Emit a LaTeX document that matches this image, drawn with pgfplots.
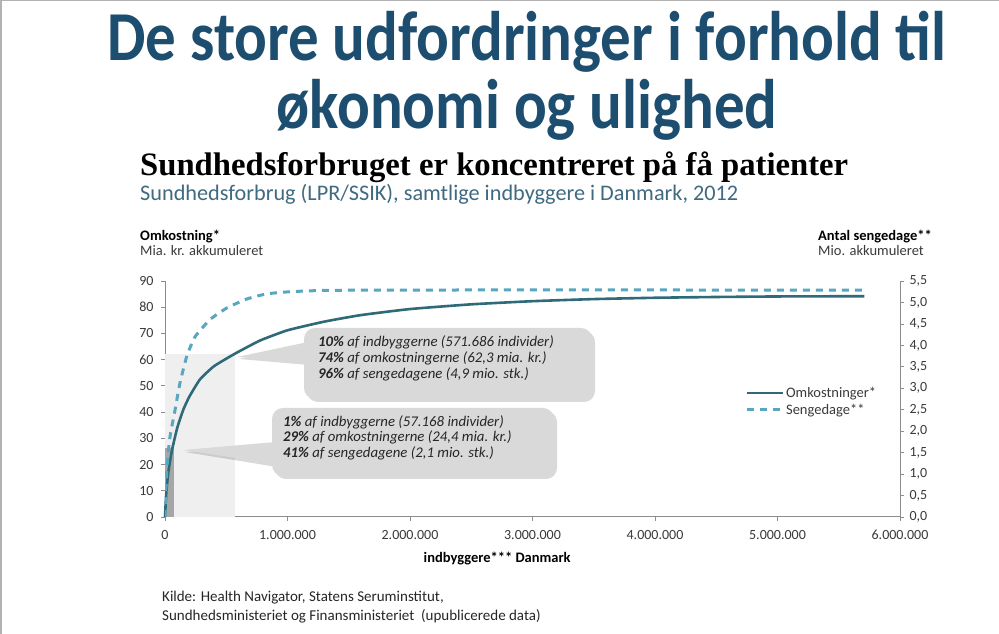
\documentclass[border=0pt]{standalone}
\usepackage{pgfplots}
\pgfplotsset{compat=1.18}
\usepackage{fontspec}
\setmainfont{Carlito}
\newfontfamily\headserif{Liberation Serif}
\definecolor{titleblue}{HTML}{1D4E6F}
\definecolor{costcol}{HTML}{2F6A79}
\definecolor{bedcol}{HTML}{58A6C0}
\definecolor{boxfill}{HTML}{D9D9D9}
\definecolor{axisgray}{HTML}{8C8C8C}
\definecolor{ticktext}{HTML}{3A3A3A}
\definecolor{subcol}{HTML}{3F6A80}
\definecolor{lightshade}{HTML}{EFEFEF}
\definecolor{darkshade}{HTML}{A6A6A6}
\definecolor{boxtext}{HTML}{262626}

\pgfplotstableread{
x y
0 0
10000 9
27000 17
57168 25.5
100000 34
150000 41
200000 46
286000 52.5
400000 57.5
571686 62.3
776000 67.3
1000000 71.2
1300000 74.5
1600000 77
2000000 79.3
2500000 81.1
3000000 82.3
3500000 83.1
4000000 83.6
4500000 83.9
5000000 84.1
5710000 84.2
}\costtable

\pgfplotstableread{
x y
0 0
13600 1.09
40800 1.87
81600 2.49
122000 3.12
177000 3.74
245000 4.20
367000 4.60
504000 4.87
667000 5.08
830000 5.20
1020000 5.25
1300000 5.28
2000000 5.29
5710000 5.29
}\bedtable

\begin{document}
\begin{tikzpicture}[x=1pt,y=1pt]
\path[fill=white, use as bounding box] (0,0) rectangle (999,634);
\draw[gray!60, line width=1.5pt] (0.75,0) -- (0.75,633.25) -- (999,633.25);

% main title (two lines in one node)
\node[anchor=base, inner sep=0] at (527,573) {\scalebox{1}[1.15]{\fontsize{61}{54}\selectfont\bfseries\color{titleblue}\begin{tabular}[t]{@{}c@{}}De store udfordringer i forhold til\\økonomi og ulighed\end{tabular}}};

% chart heading
\node[anchor=base west, inner sep=0] at (140,458) {\resizebox{708pt}{!}{\headserif\bfseries\fontsize{32}{32}\selectfont Sundhedsforbruget er koncentreret på få patienter}};
\node[anchor=base west, inner sep=0] at (140,433) {\resizebox{598pt}{!}{\fontsize{20}{20}\selectfont\color{subcol}Sundhedsforbrug (LPR/SSIK), samtlige indbyggere i Danmark, 2012}};

% axis titles
\node[anchor=base west, inner sep=0, font=\fontsize{14.5}{14.5}\selectfont\bfseries] at (140,393) {Omkostning*};
\node[anchor=base west, inner sep=0, font=\fontsize{14.5}{14.5}\selectfont, text=ticktext] at (140,378) {Mia. kr. akkumuleret};
\node[anchor=base west, inner sep=0, font=\fontsize{14.5}{14.5}\selectfont\bfseries] at (818,393) {Antal sengedage**};
\node[anchor=base west, inner sep=0, font=\fontsize{14.5}{14.5}\selectfont, text=ticktext] at (818,378) {Mio. akkumuleret};

\begin{axis}[
  at={(165pt,117pt)}, anchor=south west, scale only axis,
  width=735pt, height=236pt,
  xmin=0, xmax=6000000, ymin=0, ymax=90,
  axis x line*=bottom, axis y line*=left,
  axis line style={axisgray, line width=1pt, -},
  tick style={axisgray, line width=0.8pt},
  major tick length=4pt, tick align=outside,
  xtick={0,1000000,2000000,3000000,4000000,5000000,6000000},
  xticklabels={0,1.000.000,2.000.000,3.000.000,4.000.000,5.000.000,6.000.000},
  scaled x ticks=false,
  ytick={0,10,20,30,40,50,60,70,80,90},
  /pgf/number format/assume math mode=true,
  ticklabel style={font=\fontsize{14}{14}\selectfont, text=ticktext},
  xticklabel style={yshift=-6pt},
  yticklabel style={xshift=-4pt},
  xlabel={indbyggere*** Danmark},
  xlabel style={at={(ticklabel cs:0.452)}, font=\fontsize{14.5}{14.5}\selectfont\bfseries, yshift=-5pt},
  clip=false,
]
\addplot[fill=lightshade, draw=none, forget plot] coordinates {(0,0) (0,62.3) (571686,62.3) (571686,0)} -- cycle;
\addplot[fill=darkshade, draw=none, forget plot] coordinates {(0,0) (0,26.5) (72000,26.5) (72000,0)} -- cycle;
\addplot[costcol, line width=2.6pt, smooth, tension=0.3] table[x=x,y=y] {\costtable};
\end{axis}

\begin{axis}[
  at={(165pt,117pt)}, anchor=south west, scale only axis,
  width=735pt, height=236pt,
  xmin=0, xmax=6000000, ymin=0, ymax=5.5,
  axis x line=none, axis y line*=right,
  axis line style={axisgray, line width=1pt, -},
  tick style={axisgray, line width=0.8pt},
  major tick length=4pt, tick align=outside,
  ytick={0,0.5,1,1.5,2,2.5,3,3.5,4,4.5,5,5.5},
  yticklabels={{0,0},{0,5},{1,0},{1,5},{2,0},{2,5},{3,0},{3,5},{4,0},{4,5},{5,0},{5,5}},
  ticklabel style={font=\fontsize{14}{14}\selectfont, text=ticktext},
  yticklabel style={xshift=2pt},
  legend image code/.code={\draw[#1] (0pt,0pt) -- (36pt,0pt);},
  legend style={draw=none, fill=none, at={(0.789,0.56)}, anchor=north west,
    font=\fontsize{14.5}{14.5}\selectfont, text=ticktext, inner sep=0pt, row sep=1pt,
    /tikz/every even column/.append style={column sep=4pt}},
  legend cell align=left,
]
\addlegendimage{costcol, line width=2.6pt}
\addlegendentry{Omkostninger*}
\addplot[bedcol, line width=3pt, dash pattern=on 7pt off 6pt, smooth, tension=0.3] table[x=x,y=y] {\bedtable};
\addlegendentry{Sengedage**}
\end{axis}

% callout box 1
\fill[black, opacity=0.15, rounded corners=11pt] (307,232) rectangle (595,303);
\fill[black, opacity=0.15] (239,275) -- (309,289) -- (309,269) -- cycle;
\fill[boxfill] (237,277) -- (308,292) -- (308,272) -- cycle;
\fill[boxfill, rounded corners=11pt] (304,235) rectangle (592,306);
\node[anchor=base west, inner sep=0, font=\fontsize{14.8}{14.8}\selectfont\itshape, text=boxtext] at (318,287) {\textbf{10\%} af indbyggerne (571.686 individer)};
\node[anchor=base west, inner sep=0, font=\fontsize{14.8}{14.8}\selectfont\itshape, text=boxtext] at (318,271) {\textbf{74\%} af omkostningerne (62,3 mia. kr.)};
\node[anchor=base west, inner sep=0, font=\fontsize{14.8}{14.8}\selectfont\itshape, text=boxtext] at (318,255) {\textbf{96\%} af sengedagene (4,9 mio. stk.)};

% callout box 2
\fill[black, opacity=0.15, rounded corners=11pt] (275,155) rectangle (557,223);
\fill[black, opacity=0.15] (185,182) -- (277,189) -- (277,167) -- cycle;
\fill[boxfill] (183,184) -- (276,192) -- (276,170) -- cycle;
\fill[boxfill, rounded corners=11pt] (272,158) rectangle (554,226);
\node[anchor=base west, inner sep=0, font=\fontsize{14.8}{14.8}\selectfont\itshape, text=boxtext] at (283,207) {\textbf{1\%} af indbyggerne (57.168 individer)};
\node[anchor=base west, inner sep=0, font=\fontsize{14.8}{14.8}\selectfont\itshape, text=boxtext] at (283,192) {\textbf{29\%} af omkostningerne (24,4 mia. kr.)};
\node[anchor=base west, inner sep=0, font=\fontsize{14.8}{14.8}\selectfont\itshape, text=boxtext] at (283,176) {\textbf{41\%} af sengedagene (2,1 mio. stk.)};

% source
\node[anchor=base west, inner sep=0, font=\fontsize{15}{15}\selectfont, text=boxtext] at (162,32) {Kilde: Health Navigator, Statens Seruminstitut,};
\node[anchor=base west, inner sep=0, font=\fontsize{15}{15}\selectfont, text=boxtext] at (162,13) {Sundhedsministeriet og Finansministeriet\ \ (upublicerede data)};
\end{tikzpicture}
\end{document}
